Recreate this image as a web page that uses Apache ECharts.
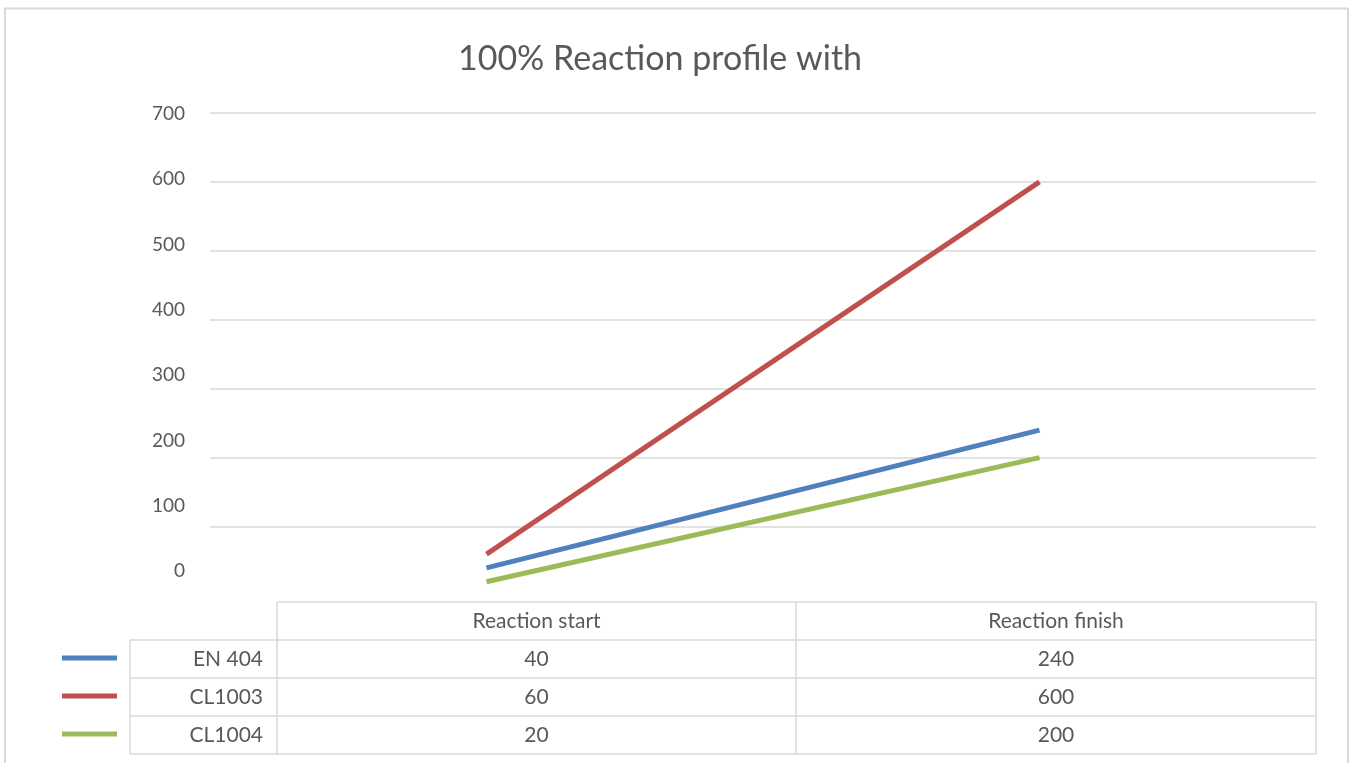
<!DOCTYPE html>
<html>
<head>
<meta charset="utf-8">
<script src="https://cdn.jsdelivr.net/npm/echarts@6/dist/echarts.min.js"></script>
<style>
  html, body { margin: 0; padding: 0; background: #fff; }
  #chart { width: 1355px; height: 763px; }
</style>
</head>
<body>
<div id="chart"></div>
<script>
// Chart data
const categories = ['Reaction start', 'Reaction finish'];
const seriesNames = ['EN 404', 'CL1003', 'CL1004'];
const en404 = [40, 240];
const cl1003 = [60, 600];
const cl1004 = [20, 200];
const seriesColors = ['#4F81BD', '#C0504D', '#9BBB59'];

const FONT = 'Lato';
const TEXT = '#595959';
const LINE = '#D9D9D9';

// Data table below the plot (Excel style)
function buildDataTable() {
    const rows = [en404, cl1003, cl1004];
    const colX = [277, 796, 1316];
    const rowY = [602, 640, 678, 716, 754];
    const labelLeft = 130;
    const els = [];
    const seg = (x1, y1, x2, y2) => els.push({
        type: 'line',
        shape: { x1: x1, y1: y1, x2: x2, y2: y2 },
        style: { stroke: LINE, lineWidth: 1.5 },
        silent: true
    });
    const txt = (x, y, s, align) => els.push({
        type: 'text',
        x: x, y: y,
        style: { text: s, fill: TEXT, font: '21px ' + FONT, align: align, verticalAlign: 'middle' },
        silent: true
    });

    // horizontal lines
    seg(colX[0], rowY[0], colX[2], rowY[0]);
    for (let i = 1; i < rowY.length; i++) seg(labelLeft, rowY[i], colX[2], rowY[i]);
    // vertical lines
    seg(labelLeft, rowY[1], labelLeft, rowY[4]);
    colX.forEach(x => seg(x, rowY[0], x, rowY[4]));

    // header
    categories.forEach((c, j) => txt((colX[j] + colX[j + 1]) / 2, (rowY[0] + rowY[1]) / 2, c, 'center'));
    // rows
    rows.forEach((vals, i) => {
        const cy = (rowY[i + 1] + rowY[i + 2]) / 2;
        els.push({
            type: 'line',
            shape: { x1: 62, y1: cy - 1, x2: 117, y2: cy - 1 },
            style: { stroke: seriesColors[i], lineWidth: 5 },
            silent: true
        });
        txt(263, cy, seriesNames[i], 'right');
        vals.forEach((v, j) => txt((colX[j] + colX[j + 1]) / 2, cy, String(v), 'center'));
    });
    return els;
}

const chart = echarts.init(document.getElementById('chart'));

const option = {
    backgroundColor: '#fff',
    animation: false,
    title: {
        text: '100% Reaction profile with',
        left: 655,
        textAlign: 'center',
        top: 37,
        textStyle: { color: TEXT, fontSize: 34, fontWeight: 'normal', fontFamily: FONT }
    },
    grid: [
        { left: 210, right: 39, top: 113, bottom: 167.5 },
        // label-only grid (Excel draws the value labels slightly compressed)
        { left: 210, right: 39, top: 114, bottom: 192 }
    ],
    xAxis: [
        {
            type: 'category',
            gridIndex: 0,
            data: categories,
            axisLine: { show: false },
            axisTick: { show: false },
            axisLabel: { show: false }
        },
        {
            type: 'category',
            gridIndex: 1,
            data: categories,
            show: false
        }
    ],
    yAxis: [
        {
            type: 'value',
            gridIndex: 0,
            min: 0,
            max: 700,
            interval: 100,
            axisLabel: { show: false },
            axisLine: { show: false },
            axisTick: { show: false },
            splitLine: { showMinLine: false, lineStyle: { color: LINE, width: 1.5 } }
        },
        {
            type: 'value',
            gridIndex: 1,
            min: 0,
            max: 700,
            interval: 100,
            axisLine: { show: false },
            axisTick: { show: false },
            splitLine: { show: false },
            axisLabel: { color: TEXT, fontSize: 19, fontFamily: FONT, margin: 25 }
        }
    ],
    series: [
        { name: seriesNames[0], data: en404 },
        { name: seriesNames[1], data: cl1003 },
        { name: seriesNames[2], data: cl1004 }
    ].map((s, i) => ({
        name: s.name,
        type: 'line',
        xAxisIndex: 0,
        yAxisIndex: 0,
        data: s.data,
        showSymbol: false,
        lineStyle: { color: seriesColors[i], width: 5, cap: 'butt' },
        itemStyle: { color: seriesColors[i] }
    })),
    graphic: [
        {
            type: 'rect',
            shape: { x: 5, y: 8.5, width: 1343, height: 770 },
            style: { fill: 'none', stroke: LINE, lineWidth: 2 },
            silent: true
        }
    ].concat(buildDataTable())
};

chart.setOption(option);

window.addEventListener('resize', function() {
    chart.resize();
});
</script>
</body>
</html>
